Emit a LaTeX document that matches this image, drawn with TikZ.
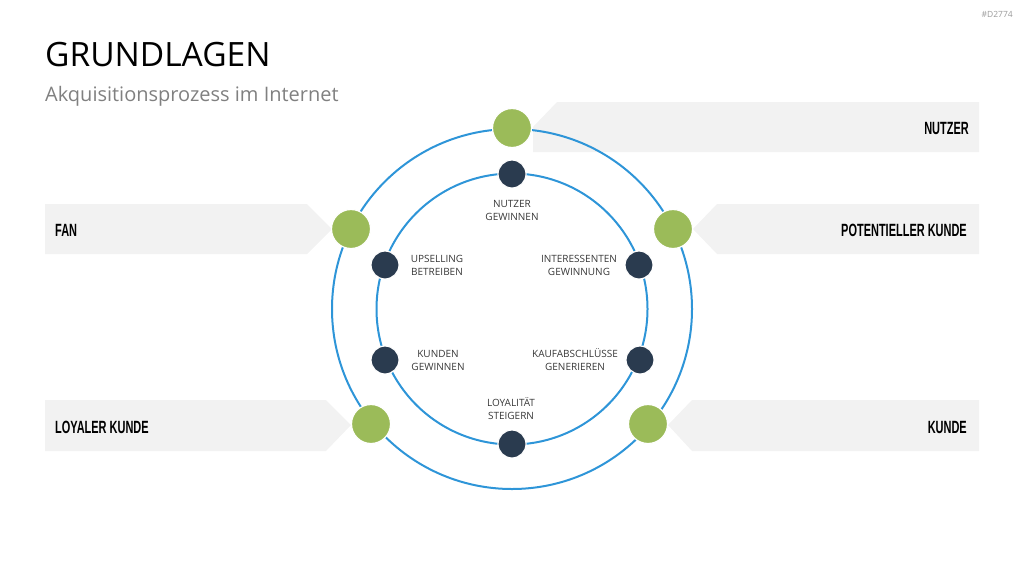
\documentclass[tikz,border=0pt]{standalone}
\usepackage{fontspec}
\usepackage{graphicx}
\setmainfont{Open Sans}
\newfontfamily\bannerfont{Liberation Sans}
\definecolor{ringblue}{HTML}{2E95D8}
\definecolor{leafgreen}{HTML}{9BBB59}
\definecolor{navy}{HTML}{2A3B4F}
\definecolor{bannergray}{HTML}{F2F2F2}
\definecolor{labelgray}{HTML}{383838}
\definecolor{subgray}{HTML}{808080}
\tikzset{
  ring/.style={draw=ringblue, line width=2pt},
  bigdot/.style={circle, fill=leafgreen, draw=white, line width=1.2pt, minimum size=39pt, inner sep=0pt},
  smalldot/.style={circle, fill=navy, draw=white, line width=1.2pt, minimum size=28pt, inner sep=0pt},
  banner/.style={fill=bannergray},
  steplabel/.style={font=\fontsize{10}{13}\selectfont, text=labelgray, align=center, inner sep=0pt},
  bannertext/.style={font=\fontsize{17.7}{18}\selectfont\bannerfont\bfseries, text=black, inner sep=0pt}
}
\newcommand{\bn}[1]{\scalebox{0.62}[1]{#1}}
\begin{document}
\begin{tikzpicture}[x=1pt, y=-1pt]
\useasboundingbox (0,0) rectangle (1024,576);
% banners
\fill[banner] (557,102) -- (979,102) -- (979,152) -- (533,152) -- (533,127) -- cycle;
\fill[banner] (45,204) -- (307,204) -- (332,229) -- (307,254) -- (45,254) -- cycle;
\fill[banner] (717,204) -- (979,204) -- (979,254) -- (717,254) -- (693,229) -- cycle;
\fill[banner] (45,400) -- (326,400) -- (351,425) -- (326,451) -- (45,451) -- cycle;
\fill[banner] (692,400) -- (979,400) -- (979,451) -- (692,451) -- (668,425) -- cycle;
% title
\node[anchor=base west, inner sep=0pt, font=\fontsize{33.5}{36}\selectfont] (title) at (45,66) {GRUNDLAGEN};
\node[anchor=base west, inner sep=0pt, font=\fontsize{20}{24}\selectfont, text=subgray] (subtitle) at (45,101) {Akquisitionsprozess im Internet};
\node[anchor=base east, inner sep=0pt, font=\fontsize{8.5}{10}\selectfont, text=subgray!80] (code) at (1013,17) {\#D2774};
% rings
\node[circle, ring, minimum size=360pt, inner sep=0pt] (outer) at (512,309) {};
\node[circle, ring, minimum size=271pt, inner sep=0pt] (inner) at (512,309) {};
% outer green nodes
\node[bigdot] (gtop) at (512,128) {};
\node[bigdot] (gfan) at (351,229) {};
\node[bigdot] (gpot) at (673,229) {};
\node[bigdot] (gloy) at (371,424) {};
\node[bigdot] (gkun) at (648,424) {};
% inner navy nodes
\node[smalldot] (ntop) at (512,174) {};
\node[smalldot] (nups) at (385,265) {};
\node[smalldot] (nint) at (639,265) {};
\node[smalldot] (nkun) at (385,360) {};
\node[smalldot] (nkau) at (640,360) {};
\node[smalldot] (nloy) at (512,444) {};
% step labels
\node[steplabel] (ltop) at (512,210) {NUTZER\\GEWINNEN};
\node[steplabel] (lups) at (437,265) {UPSELLING\\BETREIBEN};
\node[steplabel] (lint) at (579,265) {INTERESSENTEN\\GEWINNUNG};
\node[steplabel] (lkun) at (438,360) {KUNDEN\\GEWINNEN};
\node[steplabel] (lkau) at (575,360) {KAUFABSCHLÜSSE\\GENERIEREN};
\node[steplabel] (lloy) at (511,409) {LOYALITÄT\\STEIGERN};
% banner labels
\node[bannertext, anchor=base east] (tnutzer) at (969,134) {\bn{NUTZER}};
\node[bannertext, anchor=base west] (tfan) at (55,236) {\bn{FAN}};
\node[bannertext, anchor=base east] (tpot) at (967,236) {\bn{POTENTIELLER KUNDE}};
\node[bannertext, anchor=base west] (tloy) at (55,433) {\bn{LOYALER KUNDE}};
\node[bannertext, anchor=base east] (tkun) at (967,433) {\bn{KUNDE}};
\end{tikzpicture}
\end{document}
